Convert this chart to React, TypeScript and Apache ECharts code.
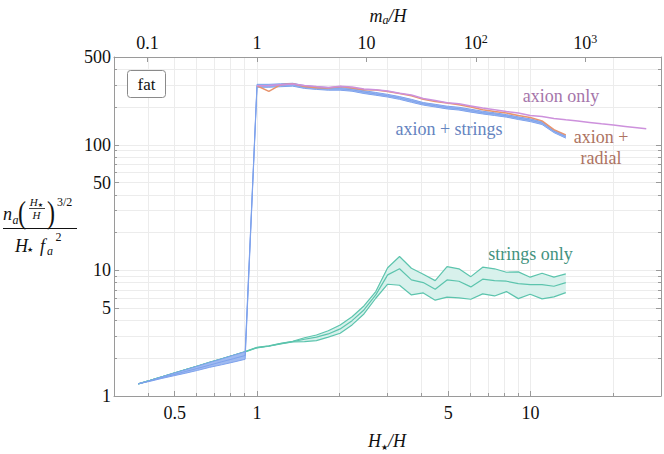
import React, { useEffect, useRef } from "react";
import * as echarts from "echarts";

// ---------- data ----------
// H*/H sample points
const hStar = [0.368, 0.407, 0.449, 0.497, 0.549, 0.607, 0.670, 0.741, 0.819, 0.905, 1.0, 1.105, 1.221, 1.350, 1.492, 1.649, 1.822, 2.014, 2.226, 2.460, 2.718, 3.004, 3.320, 3.669, 4.055, 4.482, 4.953, 5.474, 6.050, 6.686, 7.389, 8.166, 9.025, 9.974, 11.02, 12.18, 13.46];
const hLate = [1.0, 1.105, 1.221, 1.350, 1.492, 1.649, 1.822, 2.014, 2.226, 2.460, 2.718, 3.004, 3.320, 3.669, 4.055, 4.482, 4.953, 5.474, 6.050, 6.686, 7.389, 8.166, 9.025, 9.974, 11.02, 12.18, 13.46];
const hAxionOnly = [1.0, 1.105, 1.221, 1.350, 1.492, 1.649, 1.822, 2.014, 2.226, 2.460, 2.718, 3.004, 3.320, 3.669, 4.055, 4.482, 4.953, 5.474, 6.050, 6.686, 7.389, 8.166, 9.025, 9.974, 11.02, 12.18, 13.46, 14.88, 16.44, 18.17, 20.09, 22.20, 24.53, 26.5];

const stringsUpper = [1.25, 1.33, 1.42, 1.52, 1.62, 1.73, 1.85, 1.98, 2.11, 2.26, 2.44, 2.51, 2.62, 2.73, 2.91, 3.06, 3.31, 3.68, 4.28, 5.21, 6.78, 10.5, 12.9, 10.4, 9.33, 8.29, 10.7, 10.3, 8.92, 10.6, 10.3, 9.67, 9.73, 8.83, 9.50, 8.83, 9.38];
const stringsMid = [1.25, 1.33, 1.42, 1.52, 1.62, 1.73, 1.85, 1.97, 2.11, 2.25, 2.43, 2.50, 2.61, 2.71, 2.83, 2.94, 3.12, 3.42, 3.98, 4.84, 6.38, 9.21, 10.3, 8.40, 8.00, 7.08, 8.40, 8.20, 7.39, 8.51, 8.29, 8.20, 7.85, 7.71, 7.71, 7.48, 8.00];
const stringsLower = [1.25, 1.33, 1.42, 1.51, 1.62, 1.73, 1.84, 1.97, 2.10, 2.24, 2.42, 2.49, 2.60, 2.69, 2.71, 2.76, 2.94, 3.16, 3.68, 4.50, 6.00, 7.76, 7.62, 6.38, 6.62, 5.79, 6.12, 6.04, 5.89, 6.50, 6.26, 6.78, 5.96, 6.46, 5.93, 6.15, 6.66];

const axStrUpper = [1.25, 1.33, 1.42, 1.52, 1.62, 1.73, 1.85, 1.97, 2.11, 2.25, 303, 303, 306, 309, 296, 290, 286, 286, 281, 270, 261, 252, 242, 230, 217, 210, 203, 199, 192, 185, 180, 174, 167, 161, 153, 131, 119];
const axStrMid = [1.25, 1.32, 1.40, 1.48, 1.57, 1.66, 1.76, 1.87, 1.98, 2.10, 295, 295, 298, 301, 288, 283, 279, 279, 274, 263, 254, 246, 236, 224, 212, 205, 198, 194, 187, 180, 176, 170, 163, 157, 149, 128, 116];
const axStrLower = [1.25, 1.31, 1.38, 1.45, 1.52, 1.60, 1.69, 1.77, 1.86, 1.96, 287, 287, 290, 293, 281, 276, 272, 272, 267, 256, 248, 240, 230, 218, 207, 200, 193, 189, 182, 176, 171, 166, 159, 153, 145, 125, 113];

const axionRadial = [295, 266, 301, 306, 291, 285, 283, 291, 283, 274, 273, 266, 256, 246, 230, 221, 215, 208, 200, 190, 184, 179, 171, 165, 155, 132, 120];
const axionOnly = [295, 297, 301, 305, 297, 291, 286, 293, 288, 278, 274, 268, 257, 249, 234, 225, 216, 212, 204, 196, 190, 184, 179, 171, 168, 162, 158, 154.6, 150.7, 147, 143.5, 140, 136.6, 134];

// axes
const X_MIN = 0.3;
const X_MAX = 30;
const Y_MIN = 1;
const Y_MAX = 500;
const MA_EXP = 2.5; // m_a/H = (H*/H)^2.5
const xMajorTicks = [0.5, 1, 5, 10];
const xGridTicks = [0.3, 0.4, 0.5, 0.6, 0.7, 0.8, 0.9, 1, 2, 3, 4, 5, 6, 7, 8, 9, 10, 20, 30];
const topMajorTicks = [0.1, 1, 10, 100, 1000];
const yMajorTicks = [1, 5, 10, 50, 100, 500];
const yGridTicks = [1, 2, 3, 4, 5, 6, 7, 8, 9, 10, 20, 30, 40, 50, 60, 70, 80, 90, 100, 200, 300, 400, 500];

// ---------- styles ----------
const FONT = "Liberation Serif";
const STAR_FONT = "DejaVu Sans";
const FRAME = "#9a9a9a";
const GRID = "#ececec";
const GREEN = "#5cc4ad";
const GREEN_FILL = "#d8f1ec";
const BLUE = "#7ea2ec";
const BLUE_FILL = "#9fbaf0";
const ORANGE = "#e8946e";
const VIOLET = "#cd91dc";

const FONT_CSS = ".chart-root svg text { font-family: 'Liberation Serif', 'DejaVu Sans', serif !important; }";

const LX = (v: number) => Math.log10(v);
const pts = (xs: number[], ys: number[]) => xs.map((x, i) => [LX(x), LX(ys[i])]);

function bandSeries(xs: number[], lo: number[], hi: number[], fill: string, z: number) {
  return {
    type: "custom",
    xAxisIndex: 0,
    yAxisIndex: 0,
    silent: true,
    z,
    clip: true,
    data: [[LX(xs[0]), LX(lo[0])]],
    encode: { x: 0, y: 1 },
    renderItem: (params: any, api: any) => {
      if (params.dataIndex !== 0) return null;
      const up = pts(xs, hi).map((p) => api.coord(p));
      const dn = pts(xs, lo).map((p) => api.coord(p)).reverse();
      return { type: "polygon", shape: { points: up.concat(dn) }, style: { fill } };
    },
  };
}

function lineSeries(xs: number[], ys: number[], color: string, width: number, z: number) {
  return {
    type: "line",
    xAxisIndex: 0,
    yAxisIndex: 0,
    data: pts(xs, ys),
    showSymbol: false,
    symbol: "none",
    silent: true,
    z,
    lineStyle: { color, width },
    emphasis: { disabled: true },
  };
}

function txt(text: string, x: number, y: number, size: number, o: any = {}) {
  const align = o.align || "left";
  const va = o.va || "middle";
  const style: any = {
    text,
    fontFamily: o.font || FONT,
    fontSize: size,
    fill: o.fill || "#111",
    align,
    verticalAlign: va,
  };
  if (o.italic) style.fontStyle = "italic";
  if (o.lineHeight) style.lineHeight = o.lineHeight;
  if (o.rich) style.rich = o.rich;
  const el: any = { type: "text", x, y, z: 100, silent: true, style };
  if (o.scaleY) el.scaleY = o.scaleY;
  return el;
}

function hline(x1: number, x2: number, y: number, w: number) {
  return { type: "line", z: 100, silent: true, shape: { x1, y1: y, x2, y2: y }, style: { stroke: "#111", lineWidth: w } };
}

const tickLabel = { fontFamily: FONT, fontSize: 18, color: "#111" };

function buildOption() {
  const xMin = LX(X_MIN), xMax = LX(X_MAX);
  const yMin = LX(Y_MIN), yMax = LX(Y_MAX);
  const noLine = { show: false, onZero: false };
  const frameLine = { show: true, onZero: false, lineStyle: { color: FRAME, width: 1 } };

  const xAxis = [
    {
      type: "value", position: "bottom", min: xMin, max: xMax,
      axisLine: frameLine,
      axisTick: { show: true, inside: true, length: 5, customValues: xMajorTicks.map(LX), lineStyle: { color: FRAME } },
      axisLabel: {
        ...tickLabel, margin: 8, customValues: xMajorTicks.map(LX), showMinLabel: true, showMaxLabel: true,
        formatter: (v: number) => {
          const m = xMajorTicks.find((t) => Math.abs(LX(t) - v) < 1e-6);
          return m === undefined ? "" : String(m);
        },
      },
      splitLine: { show: false },
    },
    {
      type: "value", position: "bottom", min: xMin, max: xMax,
      axisLine: noLine,
      axisTick: { show: true, inside: true, length: 3, customValues: xGridTicks.map(LX), lineStyle: { color: FRAME } },
      axisLabel: { show: false },
      splitLine: { show: true, lineStyle: { color: GRID, width: 1 } },
    },
    {
      type: "value", position: "top", min: MA_EXP * xMin, max: MA_EXP * xMax,
      axisLine: frameLine,
      axisTick: { show: true, inside: true, length: 5, customValues: topMajorTicks.map(LX), lineStyle: { color: FRAME } },
      axisLabel: {
        ...tickLabel, margin: 4, customValues: topMajorTicks.map(LX), showMinLabel: true, showMaxLabel: true,
        formatter: (v: number) => {
          const m = topMajorTicks.find((t) => Math.abs(LX(t) - v) < 1e-6);
          if (m === undefined) return "";
          const e = Math.round(LX(m));
          return e >= 2 ? `{b|10}{sup|${e}}` : `{b|${m}}`;
        },
        rich: {
          b: { fontFamily: FONT, fontSize: 18, color: "#111", lineHeight: 20 },
          sup: { fontFamily: FONT, fontSize: 12, color: "#111", lineHeight: 12, verticalAlign: "top" },
        },
      },
      splitLine: { show: false },
    },
  ];

  const yAxis = [
    {
      type: "value", position: "left", min: yMin, max: yMax,
      axisLine: frameLine,
      axisTick: { show: true, inside: true, length: 5, customValues: yMajorTicks.map(LX), lineStyle: { color: FRAME } },
      axisLabel: {
        ...tickLabel, margin: 3, customValues: yMajorTicks.map(LX), showMinLabel: true, showMaxLabel: true,
        formatter: (v: number) => {
          const m = yMajorTicks.find((t) => Math.abs(LX(t) - v) < 1e-6);
          return m === undefined ? "" : String(m);
        },
      },
      splitLine: { show: false },
    },
    {
      type: "value", position: "left", min: yMin, max: yMax,
      axisLine: noLine,
      axisTick: { show: true, inside: true, length: 3, customValues: yGridTicks.map(LX), lineStyle: { color: FRAME } },
      axisLabel: { show: false },
      splitLine: { show: true, lineStyle: { color: GRID, width: 1 } },
    },
    {
      type: "value", position: "right", min: yMin, max: yMax,
      axisLine: frameLine,
      axisTick: { show: true, inside: true, length: 5, customValues: yMajorTicks.map(LX), lineStyle: { color: FRAME } },
      axisLabel: { show: false },
      splitLine: { show: false },
    },
    {
      type: "value", position: "right", min: yMin, max: yMax,
      axisLine: noLine,
      axisTick: { show: true, inside: true, length: 3, customValues: yGridTicks.map(LX), lineStyle: { color: FRAME } },
      axisLabel: { show: false },
      splitLine: { show: false },
    },
  ];

  const series: any[] = [
    bandSeries(hStar, stringsLower, stringsUpper, GREEN_FILL, 2),
    lineSeries(hStar, stringsUpper, GREEN, 1.2, 3),
    lineSeries(hStar, stringsMid, GREEN, 1.2, 3),
    lineSeries(hStar, stringsLower, GREEN, 1.2, 3),
    bandSeries(hStar, axStrLower, axStrUpper, BLUE_FILL, 4),
    lineSeries(hStar, axStrUpper, BLUE, 1, 5),
    lineSeries(hStar, axStrMid, BLUE, 1, 5),
    lineSeries(hStar, axStrLower, BLUE, 1, 5),
    lineSeries(hLate, axionRadial, ORANGE, 1.5, 6),
    lineSeries(hAxionOnly, axionOnly, VIOLET, 1.5, 7),
  ];

  const ital = { fontFamily: FONT, fontStyle: "italic", fill: "#111" };
  const star = { fontFamily: STAR_FONT, fill: "#111" };
  const graphic = [
    // legend box
    { type: "rect", z: 100, silent: true, shape: { x: 127.5, y: 70.5, width: 38, height: 27, r: 3 }, style: { fill: "#fff", stroke: "#8a8a8a", lineWidth: 1 } },
    txt("fat", 146.5, 84, 17, { align: "center" }),
    // annotations
    txt("axion only", 561, 96, 18, { align: "center", fill: "#a575aa" }),
    txt("axion + strings", 449, 129, 18, { align: "center", fill: "#6584bf" }),
    txt("axion +\nradial", 601, 147.5, 18, { align: "center", fill: "#ad735f", lineHeight: 21 }),
    txt("strings only", 530.5, 254, 18, { align: "center", fill: "#42927e" }),
    // axis titles
    txt("{i|H}{s|★}{i|/H}", 387, 441, 18, {
      align: "center",
      rich: { i: { ...ital, fontSize: 18, lineHeight: 20 }, s: { ...star, fontSize: 8, lineHeight: 10, verticalAlign: "bottom" } },
    }),
    txt("{i|m}{s|a}{i|/H}", 388, 16, 18, {
      align: "center",
      rich: { i: { ...ital, fontSize: 18, lineHeight: 20 }, s: { ...ital, fontSize: 12, lineHeight: 12, verticalAlign: "bottom" } },
    }),
    // y-axis label: numerator
    txt("n", 3, 214, 18, { italic: true }),
    txt("a", 12.5, 220, 12, { italic: true }),
    txt("(", 18, 212, 24, { scaleY: 1.35 }),
    txt("{i|H}{s|★}", 36.5, 202, 11, {
      align: "center",
      rich: { i: { ...ital, fontSize: 11, lineHeight: 11 }, s: { ...star, fontSize: 6, lineHeight: 6, verticalAlign: "bottom" } },
    }),
    hline(29, 45, 208.5, 0.8),
    txt("H", 36.5, 215, 11, { italic: true, align: "center" }),
    txt(")", 47, 212, 24, { scaleY: 1.35 }),
    txt("3/2", 57, 202, 12),
    // fraction bar
    hline(3, 77, 228.5, 1),
    // denominator
    txt("H", 15, 246, 18, { italic: true }),
    txt("★", 27, 250, 7, { font: STAR_FONT }),
    txt("f", 40, 246, 18, { italic: true }),
    txt("a", 47, 251, 12, { italic: true }),
    txt("2", 55.5, 237, 12),
  ];

  return {
    animation: false,
    textStyle: { fontFamily: FONT },
    grid: { left: 114, right: 3, top: 57, bottom: 58, containLabel: false },
    xAxis,
    yAxis,
    series,
    graphic,
  };
}

export default function App() {
  const ref = useRef<HTMLDivElement>(null);
  useEffect(() => {
    document.body.style.margin = "0";
    const chart = echarts.init(ref.current as HTMLDivElement, null, { renderer: "svg" });
    chart.setOption(buildOption() as any);
    return () => chart.dispose();
  }, []);
  return (
    <div className="chart-root">
      <style>{FONT_CSS}</style>
      <div ref={ref} style={{ width: 664, height: 454 }} />
    </div>
  );
}
